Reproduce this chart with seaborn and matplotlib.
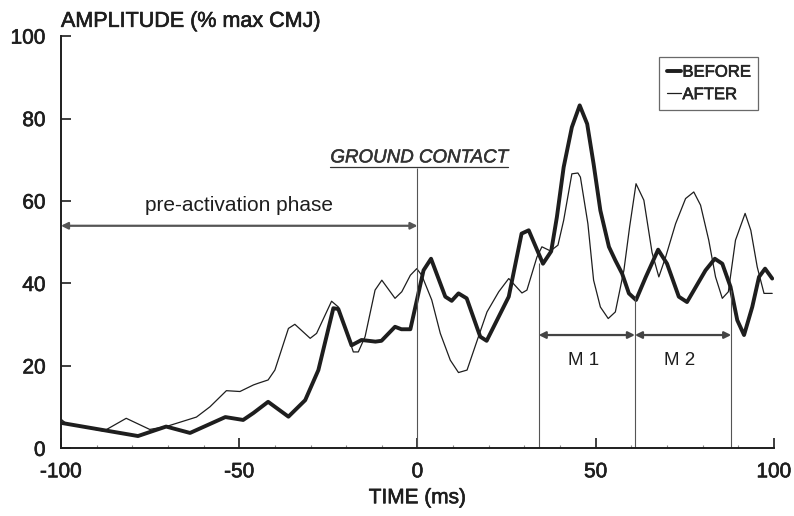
import matplotlib
matplotlib.use("Agg")
import matplotlib.pyplot as plt
import matplotlib.patheffects as pe
from matplotlib.lines import Line2D
import seaborn as sns
import pandas as pd

# EMG amplitude envelopes around ground contact (time in ms, amplitude in % of max CMJ)
before_time = [-100, -78.4, -70.5, -63.8, -53.9, -48.9, -46, -41.9, -36.2, -31.5, -27.8,
               -23.6, -22.2, -18.5, -15.7, -11.8, -10.1, -6.3, -4.5, -2, 1.7, 3.8, 7.8,
               9.6, 11.5, 13.8, 17.6, 19.4, 25.6, 29.2, 31.2, 35.2, 37.5, 39.1, 41, 43.3,
               45.5, 47.6, 49.4, 51.3, 53.7, 55.5, 57.4, 59.3, 61.3, 64, 67.5, 70, 73.3,
               75.6, 80.8, 83.4, 85.5, 87.8, 89.7, 91.6, 93.9, 95.8, 97.5, 99.5]
before_amp = [6.2, 3.0, 5.3, 3.75, 7.6, 6.9, 8.6, 11.3, 7.7, 11.7, 19,
              34, 33.8, 25, 26.3, 25.9, 26.1, 29.5, 28.9, 28.9, 43.2, 46, 36.8,
              35.8, 37.6, 36.4, 27.1, 26.1, 36.8, 52.1, 52.9, 44.8, 47.8, 56.1, 68.2, 77.9,
              83.2, 78.7, 69, 57.7, 48.9, 45.6, 42.4, 37.6, 36, 41.5, 48.2, 44.8, 36.8,
              35.5, 43.2, 46, 44.8, 39.2, 31.1, 27.5, 34.3, 41.6, 43.6, 41.2]

after_time = [-100, -98.5, -88, -81.7, -75.1, -70.5, -62, -58.2, -53.6, -49.8, -46,
              -44.7, -41.9, -40, -36.2, -34.4, -30.1, -28.3, -24.1, -22.2, -18, -16.6,
              -14.7, -11.9, -10, -6.3, -4.4, -2, -0.2, 1.2, 4, 6.4, 9.2, 11.5, 13.9,
              17.1, 19.5, 22.8, 25.6, 29.3, 30.7, 33.5, 34.9, 37.3, 39.4, 41, 43.3, 45,
              45.7, 47.8, 49.4, 51.3, 53.5, 55.5, 57.9, 59.5, 61.3, 63.5, 65.8, 67.7,
              69.6, 72.4, 75.2, 77.5, 79.4, 81.7, 83.6, 85.5, 87.2, 89.2, 91.9, 93.5,
              95.3, 97.2, 99.5]
after_amp = [7.1, 6.0, 4.2, 7.3, 4.6, 5.3, 7.6, 10.1, 14, 13.8, 15.4,
             15.8, 16.6, 19, 29.1, 30.1, 26.7, 27.9, 35.7, 34.3, 23.4, 23.4,
             27.1, 38.4, 40.8, 36.4, 38, 42, 43.6, 42, 36, 27.9, 21.4, 18.4, 19,
             27.1, 33.1, 38, 41.2, 37.7, 38.4, 46.4, 48.9, 47.9, 49.3, 55.3, 66.6, 66.8,
             65.8, 54.5, 40.8, 34.3, 31.5, 33.1, 43.2, 53.7, 64.2, 60.2, 47.5, 41.6,
             46.4, 54.5, 60.6, 62.2, 59, 50.5, 41.6, 36.4, 38, 50.5, 57, 52.9,
             44, 37.6, 37.6]

series_names = ["BEFORE", "AFTER"]

# phase markers (ms) and where each marker line meets the curves (% max CMJ)
contact_time = 0
contact_line_top = 68
window_bounds = [34, 61, 88]
window_line_tops = [45, 36.7, 38.4]
window_labels = ["M 1", "M 2"]
preact_level = 54
window_arrow_level = 27.5

x_ticks = [-100, -50, 0, 50, 100]
y_ticks = [0, 20, 40, 60, 80, 100]

df = pd.concat([
    pd.DataFrame({"time": before_time, "amp": before_amp, "cond": series_names[0]}),
    pd.DataFrame({"time": after_time, "amp": after_amp, "cond": series_names[1]}),
])

sns.set_style("ticks")
plt.rcParams["font.family"] = ["Liberation Sans", "DejaVu Sans"]

ink = "#1e1e1e"
# slightly heavier glyph strokes for the axis lettering
heavy = [pe.withStroke(linewidth=0.45, foreground=ink)]

fig = plt.figure(figsize=(7.94, 5.16), dpi=100)
ax = fig.add_axes([0.0768, 0.131, 0.898, 0.799])

sns.lineplot(data=df, x="time", y="amp", hue="cond", size="cond",
             sizes={series_names[0]: 2.8, series_names[1]: 0.9},
             palette={series_names[0]: ink, series_names[1]: ink},
             sort=False, estimator=None, ax=ax, legend=False)

ax.set_xlim(-100, 100)
ax.set_ylim(0, 100)
ax.set_xticks(x_ticks)
ax.set_yticks(y_ticks)
ax.set_xticklabels([str(v) for v in x_ticks])
ax.set_yticklabels([str(v) for v in y_ticks])
ax.set_xticks(range(-100, 101, 10), minor=True)
ax.tick_params(axis="x", which="major", direction="in", length=7, width=1.2,
               labelsize=15, colors=ink, pad=10)
ax.tick_params(axis="y", which="major", direction="in", length=7, width=1.2,
               labelsize=15, colors=ink, pad=11)
ax.tick_params(axis="x", which="minor", direction="in", length=2.5, width=0.8, colors="#888")
ax.tick_params(axis="y", which="minor", left=False)
for lab in ax.get_xticklabels() + ax.get_yticklabels():
    lab.set_path_effects(heavy)
for s in ["top", "right"]:
    ax.spines[s].set_visible(False)
for s in ["left", "bottom"]:
    ax.spines[s].set_linewidth(1.4)
    ax.spines[s].set_color(ink)
ax.set_xlabel("TIME (ms)", fontsize=15, color=ink, labelpad=5, path_effects=heavy)
ax.set_ylabel("")

fig.text(0.0768, 0.948, "AMPLITUDE (% max CMJ)", fontsize=15.5, color=ink,
         ha="left", va="baseline", path_effects=heavy)

# ground contact marker
guide = "#555555"
ax.vlines(contact_time, 0, contact_line_top, color=guide, lw=0.8)
gc = ax.text(contact_time + 0.5, 68.4, "GROUND CONTACT", fontsize=13.5, style="italic",
             color="#333", ha="center", va="bottom",
             path_effects=[pe.withStroke(linewidth=0.35, foreground="#333")])

# pre-activation phase span
ax.annotate("", xy=(contact_time, preact_level), xytext=(-100, preact_level),
            arrowprops=dict(arrowstyle="<|-|>", color=guide, lw=1.6,
                            mutation_scale=10, shrinkA=0, shrinkB=0))
ax.text((-100 + contact_time) / 2, preact_level + 2.6, "pre-activation phase",
        fontsize=15, color=ink, ha="center", va="bottom")

# analysis windows M1 and M2
ax.vlines(window_bounds, 0, window_line_tops, color=guide, lw=0.8)
for (a, b), lab in zip(zip(window_bounds[:-1], window_bounds[1:]), window_labels):
    ax.annotate("", xy=(b, window_arrow_level), xytext=(a, window_arrow_level),
                arrowprops=dict(arrowstyle="<|-|>", color="#444", lw=1.6,
                                mutation_scale=10, shrinkA=0, shrinkB=0))
    ax.text((a + b) / 2 - 1, 21.4, lab, fontsize=13.5, color=ink, ha="center",
            va="center")

# legend
handles = [Line2D([], [], color=ink, lw=2.8), Line2D([], [], color=ink, lw=0.9)]
leg = ax.legend(handles, series_names, loc="upper right", bbox_to_anchor=(0.978, 0.949),
                fontsize=12, frameon=True, fancybox=False, handlelength=0.85,
                handletextpad=0.1, borderpad=0.45, labelspacing=0.45,
                borderaxespad=0.0)
leg.get_frame().set_edgecolor("#444")
leg.get_frame().set_linewidth(0.9)
for t in leg.get_texts():
    t.set_path_effects(heavy)

# underline the ground contact caption
fig.canvas.draw()
bb = gc.get_window_extent(fig.canvas.get_renderer())
y_line = bb.y0 - 1
fig.add_artist(Line2D([bb.x0 / fig.dpi / fig.get_figwidth(), bb.x1 / fig.dpi / fig.get_figwidth()],
                      [y_line / fig.dpi / fig.get_figheight()] * 2,
                      transform=fig.transFigure, color="#333", lw=0.9))

fig.savefig("out.png", dpi=100)
